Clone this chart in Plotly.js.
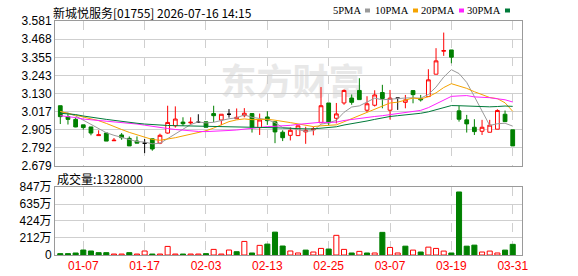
<!DOCTYPE html>
<html><head><meta charset="utf-8">
<script src="https://cdn.plot.ly/plotly-3.0.1.min.js"></script>
<style>html,body{margin:0;padding:0;background:#fff;}#chart{width:578px;height:276px;}</style>
</head><body><div id="chart"></div>
<script>
const dates = ['01-02','01-03','01-06','01-07','01-08','01-09','01-10','01-13','01-14','01-15','01-16','01-17','01-20','01-21','01-22','01-23','01-24','01-27','01-28','02-03','02-04','02-05','02-06','02-07','02-10','02-11','02-12','02-13','02-14','02-17','02-18','02-19','02-20','02-21','02-24','02-25','02-26','02-27','02-28','03-03','03-04','03-05','03-06','03-07','03-10','03-11','03-12','03-13','03-14','03-17','03-18','03-19','03-20','03-21','03-24','03-25','03-26','03-27','03-28','03-31'];
const openP  = [3.054,2.986,2.969,2.935,2.922,2.868,2.884,2.836,2.872,2.851,2.834,2.821,2.848,2.821,2.884,2.929,2.952,2.947,2.951,2.954,3.005,2.965,3.001,2.973,2.992,3.005,2.918,2.984,2.954,2.889,2.870,2.868,2.891,2.904,2.948,3.071,2.976,3.071,3.102,3.149,3.026,3.057,3.136,3.026,3.101,3.075,3.148,3.099,3.111,3.250,3.393,3.401,3.022,2.966,2.920,2.895,2.889,2.908,3.001,2.904];
const highP  = [3.054,3.011,2.980,2.935,2.922,2.901,2.884,2.853,2.884,2.863,2.863,2.848,2.848,2.880,3.054,3.050,2.982,2.982,3.001,2.954,3.054,3.001,3.033,3.037,3.039,3.005,3.005,3.020,2.954,2.901,2.920,2.929,2.923,2.923,3.170,3.071,3.071,3.155,3.124,3.225,3.113,3.150,3.184,3.152,3.101,3.121,3.148,3.121,3.281,3.412,3.509,3.401,3.053,2.997,2.970,2.966,2.966,3.032,3.024,2.904];
const lowP   = [2.940,2.937,2.920,2.905,2.870,2.868,2.834,2.836,2.842,2.804,2.821,2.759,2.774,2.815,2.880,2.918,2.929,2.937,2.951,2.920,2.952,2.933,2.980,2.973,2.982,2.887,2.872,2.935,2.821,2.834,2.838,2.868,2.817,2.870,2.948,2.930,2.944,3.060,3.060,3.092,3.014,3.049,3.038,2.968,3.028,3.038,3.069,3.080,3.111,3.250,3.364,3.318,2.955,2.887,2.872,2.872,2.889,2.908,2.955,2.804];
const closeP = [2.986,2.969,2.922,2.918,2.884,2.873,2.834,2.839,2.855,2.804,2.821,2.821,2.785,2.870,2.950,2.971,2.942,2.951,2.951,2.920,2.992,3.001,3.001,2.982,3.007,2.920,2.965,2.961,2.891,2.855,2.901,2.929,2.901,2.910,3.054,2.948,3.003,3.149,3.075,3.092,3.066,3.121,3.099,3.101,3.101,3.090,3.123,3.090,3.215,3.333,3.397,3.356,2.970,2.941,2.893,2.920,2.933,3.024,2.955,2.804];
const volume = [17,17,25,62,50,29,29,12,12,29,12,50,12,12,107,12,12,12,12,17,70,12,62,41,169,25,120,136,285,112,50,25,61,37,82,74,245,70,25,45,25,25,282,94,25,110,61,37,98,82,49,25,785,110,123,37,49,25,61,132.8];
const ma5  = [3.018,3.007,2.990,2.965,2.936,2.913,2.886,2.870,2.857,2.841,2.831,2.828,2.817,2.820,2.849,2.879,2.904,2.937,2.953,2.947,2.951,2.963,2.973,2.979,2.997,2.982,2.975,2.967,2.949,2.918,2.915,2.907,2.895,2.899,2.939,2.948,2.963,3.013,3.046,3.053,3.077,3.101,3.091,3.096,3.098,3.102,3.103,3.101,3.124,3.170,3.232,3.278,3.254,3.199,3.111,3.016,2.931,2.942,2.945,2.927];
const ma10 = [3.018,3.007,2.997,2.986,2.973,2.961,2.944,2.927,2.906,2.888,2.872,2.857,2.844,2.839,2.845,2.855,2.866,2.877,2.887,2.898,2.915,2.934,2.955,2.966,2.972,2.967,2.969,2.970,2.964,2.958,2.949,2.941,2.931,2.924,2.929,2.932,2.935,2.954,2.973,2.996,3.013,3.032,3.052,3.071,3.076,3.090,3.102,3.096,3.110,3.134,3.167,3.191,3.178,3.162,3.141,3.124,3.105,3.098,3.072,3.019];
const ma20 = [2.992,2.988,2.980,2.971,2.967,2.963,2.959,2.955,2.951,2.946,2.940,2.933,2.925,2.918,2.912,2.906,2.901,2.897,2.894,2.893,2.894,2.896,2.900,2.903,2.909,2.911,2.918,2.924,2.926,2.928,2.932,2.938,2.943,2.945,2.951,2.950,2.952,2.962,2.969,2.977,2.981,2.987,2.992,2.998,3.003,3.011,3.019,3.025,3.042,3.065,3.090,3.112,3.115,3.117,3.109,3.107,3.104,3.097,3.091,3.077];
const ma30 = [3.007,3.003,2.999,2.990,2.982,2.975,2.969,2.963,2.956,2.950,2.945,2.940,2.936,2.933,2.931,2.930,2.929,2.928,2.928,2.927,2.927,2.927,2.927,2.926,2.925,2.923,2.921,2.919,2.917,2.915,2.912,2.911,2.910,2.910,2.915,2.918,2.923,2.934,2.941,2.951,2.959,2.969,2.979,2.987,2.992,2.996,3.002,3.007,3.016,3.029,3.043,3.055,3.054,3.052,3.049,3.049,3.047,3.049,3.052,3.050];
const priceTickText = ['2.679','2.792','2.905','3.017','3.130','3.243','3.355','3.468','3.581'];
const volTickVals = [0,212,424,635,847];
const volTickText = ['0','212万','424万','635万','847万'];
const xTickDates = ['01-07','01-17','02-03','02-13','02-25','03-07','03-19','03-31'];
const titleText = '新城悦服务[01755] 2026-07-16 14:15';
const volLabel = '成交量:1328000';
const maNames = ['5PMA','10PMA','20PMA','30PMA'];
const maColors = ['#9a9a9a','#f5a300','#ff22ff','#007a3a'];
const RED = '#ff0000', GREEN = '#008000';

// pixel helpers for layout (plot area 55..522 x 21..255)
const L = 55, T = 21, W = 467, H = 234;
const px = v => (v - L) / W;
const py = v => (T + H - v) / H;

const pick = (arr, idx) => idx.map(i => arr[i]);
const allIdx = dates.map((d, i) => i);
const moveIdx = allIdx.filter(i => openP[i] !== closeP[i]);
const flatIdx = allIdx.filter(i => openP[i] === closeP[i]);

const traces = [];
traces.push({
  type: 'candlestick', xaxis: 'x', yaxis: 'y',
  x: pick(dates, moveIdx), open: pick(openP, moveIdx), high: pick(highP, moveIdx),
  low: pick(lowP, moveIdx), close: pick(closeP, moveIdx),
  increasing: {line: {color: RED, width: 1}, fillcolor: '#ffffff'},
  decreasing: {line: {color: GREEN, width: 1}, fillcolor: GREEN},
  whiskerwidth: 0, hoverinfo: 'skip', showlegend: false
});
traces.push({
  type: 'candlestick', xaxis: 'x', yaxis: 'y',
  x: pick(dates, flatIdx), open: pick(openP, flatIdx), high: pick(highP, flatIdx),
  low: pick(lowP, flatIdx), close: pick(closeP, flatIdx),
  increasing: {line: {color: '#000', width: 1}, fillcolor: '#000'},
  decreasing: {line: {color: '#000', width: 1}, fillcolor: '#000'},
  whiskerwidth: 0, hoverinfo: 'skip', showlegend: false
});
[ma5, ma10, ma20, ma30].forEach((m, k) => {
  traces.push({type: 'scatter', mode: 'lines', x: dates, y: m, xaxis: 'x', yaxis: 'y',
    line: {color: maColors[k], width: 1}, hoverinfo: 'skip', showlegend: false});
});
const up = closeP.map((c, i) => i > 0 && c >= closeP[i - 1]);
traces.push({
  type: 'bar', x: dates, y: volume, xaxis: 'x2', yaxis: 'y2', width: 0.66,
  marker: {color: up.map(u => u ? '#ffffff' : GREEN), line: {color: up.map(u => u ? RED : GREEN), width: 1}},
  hoverinfo: 'skip', showlegend: false
});

const tickFont = {family: 'Liberation Sans, Noto Sans CJK SC, sans-serif', size: 12, color: '#000'};
const xCommon = {
  type: 'category', categoryorder: 'array', categoryarray: dates,
  range: [-0.69, 60.21], tickmode: 'array', tickvals: xTickDates,
  showgrid: true, gridcolor: '#cfcfcf', griddash: 'dash', gridwidth: 1,
  showline: true, mirror: true, linecolor: '#9a9a9a', linewidth: 1,
  zeroline: false, ticks: '', fixedrange: true, rangeslider: {visible: false}
};

const annotations = [
  {xref: 'paper', yref: 'paper', x: px(51), y: py(2), xanchor: 'left', yanchor: 'top', showarrow: false,
   text: titleText, font: {family: 'Noto Sans CJK SC, sans-serif', size: 12, color: '#000'}},
  {xref: 'paper', yref: 'paper', x: px(55), y: py(178), xanchor: 'left', yanchor: 'middle', showarrow: false,
   text: volLabel, font: {family: 'Noto Sans CJK SC, Liberation Sans, sans-serif', size: 12, color: '#000'}}
];
const squareX = [364, 412, 458, 504];
const shapes = [];
maNames.forEach((n, k) => {
  annotations.push({xref: 'paper', yref: 'paper', x: px(squareX[k] - 1), y: py(10.5), xanchor: 'right', yanchor: 'middle',
    showarrow: false, text: n, font: {family: 'Liberation Serif, serif', size: 10.5, color: '#000'}});
  shapes.push({type: 'rect', xref: 'paper', yref: 'paper', x0: px(squareX[k] + 1), x1: px(squareX[k] + 6),
    y0: py(12.5), y1: py(8.5), fillcolor: maColors[k], line: {width: 0}});
});
shapes.push({type: 'rect', xref: 'paper', yref: 'paper', layer: 'below',
  x0: px(200), x1: px(385), y0: py(108), y1: py(62), fillcolor: 'rgba(0,0,0,0)', line: {width: 0},
  label: {text: '东方财富', textposition: 'middle center',
    font: {family: 'Noto Sans CJK SC, sans-serif', size: 36, color: '#e8e8e8', weight: 'bold'}}});

const layout = {
  width: 578, height: 276, margin: {l: L, r: 578 - L - W, t: T, b: 276 - T - H},
  paper_bgcolor: '#fff', plot_bgcolor: '#fff', showlegend: false, hovermode: false,
  xaxis: Object.assign({}, xCommon, {anchor: 'y', showticklabels: false}),
  xaxis2: Object.assign({}, xCommon, {anchor: 'y2', showticklabels: true,
    tickfont: {family: 'Liberation Sans, sans-serif', size: 12, color: RED}}),
  yaxis: {domain: [py(166), 1], range: [2.679, 3.581], tickmode: 'array',
    tickvals: priceTickText.map(Number), ticktext: priceTickText, tickfont: tickFont,
    showgrid: true, gridcolor: '#cfcfcf', gridwidth: 1, showline: true, mirror: true,
    linecolor: '#9a9a9a', zeroline: false, ticks: '', fixedrange: true},
  yaxis2: {domain: [0, py(187)], range: [0, 847], tickmode: 'array', tickvals: volTickVals,
    ticktext: volTickText, tickfont: tickFont, showgrid: true, gridcolor: '#cfcfcf', gridwidth: 1,
    showline: true, mirror: true, linecolor: '#9a9a9a', zeroline: false, ticks: '', fixedrange: true},
  annotations: annotations, shapes: shapes
};
Plotly.newPlot('chart', traces, layout, {staticPlot: true, displayModeBar: false});
</script></body></html>
